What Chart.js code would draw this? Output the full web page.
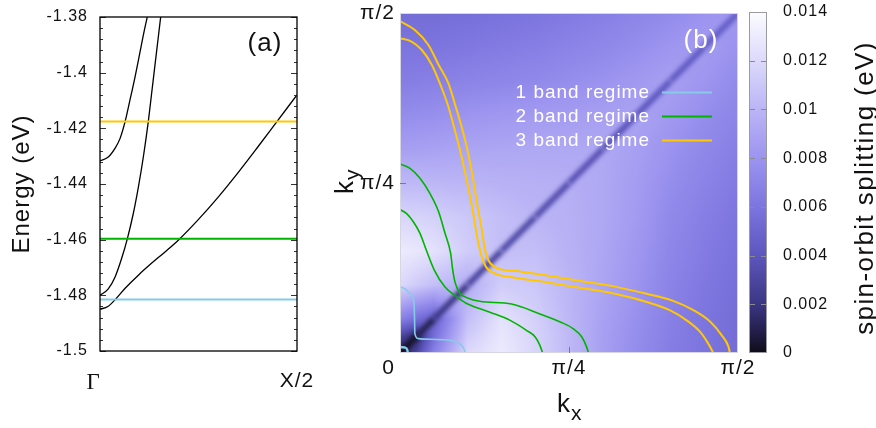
<!DOCTYPE html>
<html>
<head>
<meta charset="utf-8">
<script src="https://cdn.jsdelivr.net/npm/chart.js@4.4.1/dist/chart.umd.min.js"></script>
<style>
  html, body { margin: 0; padding: 0; background: #fff; }
  #wrap { position: relative; width: 876px; height: 428px; overflow: hidden; }
  canvas { position: absolute; top: 0; }
  #bandCanvas { left: 0; }
  #mapCanvas { left: 320px; }
  #barCanvas { left: 745px; }
</style>
</head>
<body>
<div id="wrap">
  <canvas id="bandCanvas" width="330" height="428"></canvas>
  <canvas id="mapCanvas" width="450" height="428"></canvas>
  <canvas id="barCanvas" width="131" height="428"></canvas>
</div>
<script>
// ---- (a) bands from Gamma to X/2 (k as fraction of the path) ----
const bandK1 = [0, 0.04, 0.08, 0.13, 0.2, 0.26, 0.33, 0.4, 0.5, 0.6, 0.7, 0.8, 0.9, 1.0];
const bandE1 = [-1.485, -1.484, -1.4813, -1.4773, -1.4724, -1.4686, -1.4644, -1.46, -1.4527, -1.4447, -1.436, -1.4268, -1.4174, -1.408];
const bandK2 = [0, 0.042, 0.076, 0.11, 0.139, 0.169, 0.195, 0.22, 0.245, 0.262, 0.279, 0.296, 0.308];
const bandE2 = [-1.48, -1.4777, -1.4735, -1.4667, -1.4596, -1.4506, -1.441, -1.4303, -1.4177, -1.4075, -1.3973, -1.3872, -1.38];
const bandK3 = [0, 0.042, 0.076, 0.1015, 0.127, 0.152, 0.178, 0.203, 0.225, 0.24];
const bandE3 = [-1.4317, -1.4303, -1.4272, -1.4237, -1.4177, -1.4099, -1.4015, -1.3926, -1.3848, -1.38];

// Fermi levels of the three regimes
const regimeLabels = ['1 band regime', '2 band regime', '3 band regime'];
const regimeColors = ['#86cce8', '#00b400', '#ffc800'];
const fermiLevels = [-1.4815, -1.4597, -1.4175];

const energyTicks = [-1.5, -1.48, -1.46, -1.44, -1.42, -1.4, -1.38];
const pathTicks = [0, 1];
const pathLabels = ['\u0393', 'X/2'];

// ---- (b) spin-orbit splitting over the quarter zone (k in units of pi) ----
const kNodes = [0, 0.025, 0.05, 0.1, 0.15, 0.2, 0.25, 0.3, 0.35, 0.4, 0.45, 0.5];
// rows: ky node, columns: kx node (eV)
const splitting = [
  [0,      0.003,  0.0068, 0.012,  0.013,  0.0118, 0.0102, 0.0087, 0.0075, 0.0065, 0.006,  0.0055],
  [0.003,  0.0015, 0.0055, 0.0112, 0.0128, 0.0117, 0.0102, 0.0087, 0.0076, 0.0066, 0.006,  0.0055],
  [0.0068, 0.0055, 0.0045, 0.0105, 0.0125, 0.0115, 0.0101, 0.0088, 0.0077, 0.0067, 0.006,  0.0055],
  [0.012,  0.0112, 0.0105, 0.0095, 0.0113, 0.011,  0.01,   0.009,  0.008,  0.0069, 0.0062, 0.0056],
  [0.013,  0.0128, 0.0125, 0.0113, 0.0105, 0.0105, 0.0098, 0.0091, 0.0082, 0.0071, 0.0064, 0.0058],
  [0.0118, 0.0117, 0.0115, 0.011,  0.0105, 0.01,   0.0097, 0.0092, 0.0084, 0.0073, 0.0066, 0.006],
  [0.0102, 0.0102, 0.0101, 0.01,   0.0098, 0.0097, 0.0096, 0.0092, 0.0085, 0.0076, 0.0069, 0.0063],
  [0.0087, 0.0087, 0.0088, 0.009,  0.0091, 0.0092, 0.0092, 0.0092, 0.0087, 0.0079, 0.0072, 0.0066],
  [0.0075, 0.0076, 0.0077, 0.008,  0.0082, 0.0084, 0.0085, 0.0087, 0.0089, 0.0083, 0.0076, 0.007],
  [0.0065, 0.0066, 0.0067, 0.0069, 0.0071, 0.0073, 0.0076, 0.0079, 0.0083, 0.0087, 0.0081, 0.0074],
  [0.006,  0.006,  0.006,  0.0062, 0.0064, 0.0066, 0.0069, 0.0072, 0.0076, 0.0081, 0.0085, 0.0079],
  [0.0055, 0.0055, 0.0055, 0.0056, 0.0058, 0.006,  0.0063, 0.0066, 0.007,  0.0074, 0.0079, 0.0083]
];
// the narrow valley along kx = ky
const diagSplitting = [0, 0.0006, 0.0016, 0.0028, 0.0032, 0.0034, 0.0036, 0.0038, 0.004, 0.0042, 0.0044, 0.0046];

// Fermi contours [kx, ky]
const cyanOuter = [[0, 0.0973], [0.008, 0.094], [0.0148, 0.0875], [0.0207, 0.073], [0.0215, 0.05], [0.022, 0.0286],
  [0.027, 0.0212], [0.059, 0.0197], [0.084, 0.016], [0.093, 0.009], [0.097, 0]];
const cyanInner = [[0, 0.0088], [0.0074, 0.008], [0.011, 0.004], [0.0113, 0]];
const greenOuter = [[0, 0.278], [0.0148, 0.2716], [0.0296, 0.257], [0.044, 0.235], [0.057, 0.208], [0.0666, 0.176],
  [0.075, 0.146], [0.078, 0.122], [0.082, 0.102], [0.089, 0.0875], [0.1, 0.081], [0.118, 0.076], [0.165, 0.072],
  [0.207, 0.0575], [0.237, 0.0457], [0.256, 0.036], [0.269, 0.0236], [0.276, 0.009], [0.279, 0]];
const greenInner = [[0, 0.211], [0.0099, 0.205], [0.0197, 0.193], [0.0296, 0.176], [0.039, 0.151], [0.0507, 0.122],
  [0.0666, 0.097], [0.084, 0.0825], [0.0987, 0.0728], [0.133, 0.06], [0.163, 0.048], [0.187, 0.0334],
  [0.2, 0.0236], [0.207, 0.0113], [0.211, 0]];
const yellowOuter = [[0, 0.488], [0.022, 0.475], [0.042, 0.453], [0.057, 0.424], [0.0715, 0.397], [0.081, 0.367],
  [0.091, 0.333], [0.0996, 0.299], [0.1075, 0.259], [0.114, 0.22], [0.121, 0.181], [0.126, 0.151], [0.131, 0.136],
  [0.1455, 0.124], [0.168, 0.121], [0.217, 0.114], [0.266, 0.106], [0.316, 0.098], [0.365, 0.087], [0.404, 0.0766],
  [0.434, 0.063], [0.459, 0.046], [0.476, 0.026], [0.486, 0.009], [0.488, 0]];
const yellowInner = [[0, 0.463], [0.017, 0.458], [0.032, 0.446], [0.047, 0.424], [0.06, 0.394], [0.0715, 0.3625],
  [0.081, 0.328], [0.091, 0.289], [0.0996, 0.2495], [0.1075, 0.21], [0.114, 0.171], [0.121, 0.1415], [0.127, 0.127],
  [0.143, 0.116], [0.168, 0.111], [0.217, 0.104], [0.266, 0.096], [0.316, 0.0874], [0.365, 0.075], [0.399, 0.063],
  [0.424, 0.048], [0.444, 0.031], [0.456, 0.0138], [0.4635, 0]];

const kTicks = [0, 0.25, 0.5];
const kLabels = ['0', '\u03c0/4', '\u03c0/2'];

// colour scale
const splitTicks = [0, 0.002, 0.004, 0.006, 0.008, 0.01, 0.012, 0.014];
const cbStops = [0, 0.001, 0.002, 0.004, 0.006, 0.008, 0.010, 0.012, 0.014];
const cbColors = ['#0e0c18', '#262150', '#3b3682', '#5d56bd', '#7d75df', '#9c94ef', '#bbb5f6', '#dcd9fb', '#fcfcff'];

const SANS = "'Liberation Sans', Arial, Helvetica, sans-serif";
const SERIF = "'Liberation Serif', 'Times New Roman', serif";
const LS = '1px';
const INK = '#111';

// ---------- helpers ----------
function hexToRgb(h) {
  return [parseInt(h.slice(1, 3), 16), parseInt(h.slice(3, 5), 16), parseInt(h.slice(5, 7), 16)];
}
const cbRgb = cbColors.map(hexToRgb);

function splitColor(v) {
  const n = cbStops.length;
  if (v <= cbStops[0]) return cbRgb[0];
  if (v >= cbStops[n - 1]) return cbRgb[n - 1];
  let i = 0;
  while (v > cbStops[i + 1]) i++;
  const t = (v - cbStops[i]) / (cbStops[i + 1] - cbStops[i]);
  const a = cbRgb[i], b = cbRgb[i + 1];
  return [a[0] + (b[0] - a[0]) * t, a[1] + (b[1] - a[1]) * t, a[2] + (b[2] - a[2]) * t];
}
function rgbStr(c) {
  return 'rgb(' + c.map(Math.round).join(',') + ')';
}

function nodeIndex(k) {
  let i = 0;
  while (i < kNodes.length - 2 && k > kNodes[i + 1]) i++;
  return i;
}
// bilinear shading between grid nodes
function splitAt(kx, ky) {
  const i = nodeIndex(kx), j = nodeIndex(ky);
  const tx = Math.min(1, Math.max(0, (kx - kNodes[i]) / (kNodes[i + 1] - kNodes[i])));
  const ty = Math.min(1, Math.max(0, (ky - kNodes[j]) / (kNodes[j + 1] - kNodes[j])));
  return splitting[j][i] * (1 - tx) * (1 - ty) + splitting[j][i + 1] * tx * (1 - ty) +
         splitting[j + 1][i] * (1 - tx) * ty + splitting[j + 1][i + 1] * tx * ty;
}

// fixed axis sizes so the plot boxes sit where we want them
function fixAxis(size, horizontal) {
  return function (scale) {
    if (horizontal) scale.height = size; else scale.width = size;
    scale.paddingLeft = scale.paddingRight = scale.paddingTop = scale.paddingBottom = 0;
  };
}

const spacing = {
  id: 'spacing',
  beforeLayout(chart) { chart.ctx.letterSpacing = LS; },
  beforeDraw(chart) { chart.ctx.letterSpacing = LS; }
};

function curve(label, xs, ys, color, width) {
  return {
    label, data: xs.map((x, i) => ({ x, y: ys[i] })), showLine: true,
    borderColor: color, borderWidth: width, pointRadius: 0, cubicInterpolationMode: 'monotone'
  };
}
function contour(label, pts, color, width) {
  return {
    label, data: pts.map(p => ({ x: p[0], y: p[1] })), showLine: true,
    borderColor: color, borderWidth: width, pointRadius: 0, cubicInterpolationMode: 'monotone', order: 0
  };
}

// ---------- (a) ----------
const bandFrame = {
  id: 'bandFrame',
  afterDatasetsDraw(chart) {
    const { ctx, chartArea: a, scales: { y } } = chart;
    ctx.save();
    ctx.strokeStyle = '#333';
    ctx.lineWidth = 1;
    for (let i = 0; i < energyTicks.length; i++) {
      const py = Math.round(y.getPixelForValue(energyTicks[i])) + 0.5;
      ctx.beginPath();
      ctx.moveTo(a.left, py); ctx.lineTo(a.left + 6, py);
      ctx.moveTo(a.right, py); ctx.lineTo(a.right - 6, py);
      ctx.stroke();
      if (i < energyTicks.length - 1) {
        for (let m = 1; m < 5; m++) {
          const v = energyTicks[i] + (energyTicks[i + 1] - energyTicks[i]) * m / 5;
          const pm = Math.round(y.getPixelForValue(v)) + 0.5;
          ctx.beginPath();
          ctx.moveTo(a.left, pm); ctx.lineTo(a.left + 3, pm);
          ctx.moveTo(a.right, pm); ctx.lineTo(a.right - 3, pm);
          ctx.stroke();
        }
      }
    }
    ctx.strokeStyle = '#000';
    ctx.lineWidth = 1.3;
    ctx.strokeRect(a.left, a.top, a.right - a.left, a.bottom - a.top);
    ctx.fillStyle = INK;
    ctx.font = '26px ' + SANS;
    ctx.textAlign = 'center';
    ctx.textBaseline = 'middle';
    ctx.fillText('(a)', 265, 44);
    ctx.restore();
  }
};

new Chart(document.getElementById('bandCanvas'), {
  type: 'scatter',
  data: {
    datasets: [
      ...fermiLevels.map((e, i) => curve(regimeLabels[i], pathTicks, [e, e], regimeColors[i], 2)),
      curve('band 1', bandK1, bandE1, '#000', 1.3),
      curve('band 2', bandK2, bandE2, '#000', 1.3),
      curve('band 3', bandK3, bandE3, '#000', 1.3)
    ]
  },
  options: {
    responsive: false,
    animation: false,
    layout: { padding: { left: 0, top: 17, right: 33, bottom: 0 } },
    plugins: { legend: { display: false }, tooltip: { enabled: false } },
    scales: {
      x: {
        type: 'linear', min: 0, max: 1,
        afterBuildTicks: s => { s.ticks = pathTicks.map(v => ({ value: v })); },
        afterFit: fixAxis(77, true),
        grid: { display: false, drawTicks: false },
        border: { display: false },
        ticks: {
          autoSkip: false, maxRotation: 0, padding: 18, color: INK,
          font: c => (c.index === 0 ? { family: SERIF, size: 23 } : { family: SANS, size: 21 }),
          // the Gamma label sits a little left of the corner
          callback: v => (v === 0 ? pathLabels[0] + '\u2002' : pathLabels[pathTicks.indexOf(v)])
        }
      },
      y: {
        type: 'linear', min: -1.5, max: -1.38,
        afterBuildTicks: s => { s.ticks = energyTicks.map(v => ({ value: v })); },
        afterFit: fixAxis(100, false),
        grid: { display: false, drawTicks: false },
        border: { display: false },
        ticks: { padding: 12, color: INK, font: { family: SANS, size: 16 }, callback: v => String(v) },
        title: { display: true, text: 'Energy (eV)', color: INK, font: { family: SANS, size: 24 }, padding: { top: 8, bottom: 0 } }
      }
    }
  },
  plugins: [spacing, bandFrame]
});

// ---------- (b) ----------
const heatmap = {
  id: 'heatmap',
  beforeDatasetsDraw(chart) {
    const { ctx, chartArea: a, scales: { x, y } } = chart;
    const w = Math.round(a.right - a.left), h = Math.round(a.bottom - a.top);
    const off = document.createElement('canvas');
    off.width = w; off.height = h;
    const octx = off.getContext('2d');
    const img = octx.createImageData(w, h);
    for (let py = 0; py < h; py++) {
      const ky = y.getValueForPixel(a.top + py + 0.5);
      for (let px = 0; px < w; px++) {
        const kx = x.getValueForPixel(a.left + px + 0.5);
        const c = splitColor(splitAt(kx, ky));
        const o = (py * w + px) * 4;
        img.data[o] = c[0]; img.data[o + 1] = c[1]; img.data[o + 2] = c[2]; img.data[o + 3] = 255;
      }
    }
    octx.putImageData(img, 0, 0);
    ctx.drawImage(off, a.left, a.top, w, h);
  },
  beforeDatasetDraw(chart, args) {
    if (chart.data.datasets[args.index].valley) {
      chart.ctx.save();
      chart.ctx.filter = 'blur(2px)';
    }
  },
  afterDatasetDraw(chart, args) {
    if (chart.data.datasets[args.index].valley) chart.ctx.restore();
  },
  afterDatasetsDraw(chart) {
    const { ctx, chartArea: a, scales: { x, y } } = chart;
    ctx.save();
    ctx.strokeStyle = 'rgba(215,215,228,1)';
    ctx.lineWidth = 1;
    ctx.strokeRect(a.left + 0.5, a.top + 0.5, a.right - a.left - 1, a.bottom - a.top - 1);
    ctx.strokeStyle = '#7a7a8a';
    const tx = Math.round(x.getPixelForValue(kTicks[1])) + 0.5;
    const ty = Math.round(y.getPixelForValue(kTicks[1])) + 0.5;
    ctx.beginPath();
    ctx.moveTo(tx, a.bottom); ctx.lineTo(tx, a.bottom - 6);
    ctx.moveTo(a.left, ty); ctx.lineTo(a.left + 6, ty);
    ctx.stroke();

    // panel tag and legend
    ctx.fillStyle = '#fff';
    ctx.textBaseline = 'middle';
    ctx.font = '26px ' + SANS;
    ctx.textAlign = 'center';
    ctx.fillText('(b)', 381, 41);
    ctx.font = '19px ' + SANS;
    ctx.textAlign = 'right';
    regimeLabels.forEach((lab, i) => {
      const ly = 92.5 + 24 * i;
      ctx.fillStyle = '#fff';
      ctx.fillText(lab, 330, ly);
      ctx.strokeStyle = regimeColors[i];
      ctx.lineWidth = 2;
      ctx.beginPath();
      ctx.moveTo(342, ly); ctx.lineTo(392, ly);
      ctx.stroke();
    });
    ctx.restore();
  },
  afterDraw(chart) {
    const ctx = chart.ctx;
    ctx.save();
    ctx.fillStyle = INK;
    ctx.textAlign = 'left';
    ctx.textBaseline = 'alphabetic';
    // k_x
    ctx.font = '26px ' + SANS;
    ctx.fillText('k', 237, 412);
    let kw = ctx.measureText('k').width;
    ctx.font = '21px ' + SANS;
    ctx.fillText('x', 237 + kw, 420);
    // k_y
    ctx.translate(33, 194);
    ctx.rotate(-Math.PI / 2);
    ctx.font = '26px ' + SANS;
    ctx.fillText('k', 0, 0);
    kw = ctx.measureText('k').width;
    ctx.font = '21px ' + SANS;
    ctx.fillText('y', kw, 6);
    ctx.restore();
  }
};

new Chart(document.getElementById('mapCanvas'), {
  type: 'scatter',
  data: {
    datasets: [
      contour(regimeLabels[0], cyanOuter, regimeColors[0], 1.6),
      contour(regimeLabels[0], cyanInner, regimeColors[0], 2.4),
      contour(regimeLabels[1], greenOuter, regimeColors[1], 1.6),
      contour(regimeLabels[1], greenInner, regimeColors[1], 1.6),
      contour(regimeLabels[2], yellowOuter, regimeColors[2], 2),
      contour(regimeLabels[2], yellowInner, regimeColors[2], 2),
      {
        label: 'kx = ky', valley: true, order: 5,
        data: kNodes.map(k => ({ x: k, y: k })), showLine: true, pointRadius: 0, borderWidth: 6.5,
        borderColor: rgbStr(splitColor(diagSplitting[6])),
        segment: {
          borderColor: c => rgbStr(splitColor((diagSplitting[c.p0DataIndex] + diagSplitting[c.p1DataIndex]) / 2))
        }
      }
    ]
  },
  options: {
    responsive: false,
    animation: false,
    layout: { padding: { left: 0, top: 13, right: 32, bottom: 0 } },
    plugins: { legend: { display: false }, tooltip: { enabled: false } },
    scales: {
      x: {
        type: 'linear', min: 0, max: 0.5,
        afterBuildTicks: s => { s.ticks = kTicks.map(v => ({ value: v })); },
        afterFit: fixAxis(75, true),
        grid: { display: false, drawTicks: false },
        border: { display: false },
        ticks: {
          autoSkip: false, maxRotation: 0, padding: 3, color: INK, font: { family: SANS, size: 21 },
          callback: v => (v === 0 ? kLabels[0] + '\u2002\u2002' : kLabels[kTicks.indexOf(v)])
        }
      },
      y: {
        type: 'linear', min: 0, max: 0.5,
        afterBuildTicks: s => { s.ticks = kTicks.slice(1).map(v => ({ value: v })); },
        afterFit: fixAxis(80, false),
        grid: { display: false, drawTicks: false },
        border: { display: false },
        ticks: {
          padding: 5, color: INK, font: { family: SANS, size: 21 },
          callback: v => kLabels[kTicks.indexOf(v)]
        }
      }
    }
  },
  plugins: [spacing, heatmap]
});

// ---------- colour bar ----------
const barDecor = {
  id: 'barDecor',
  afterDatasetsDraw(chart) {
    const { ctx, chartArea: a, scales: { y } } = chart;
    ctx.save();
    ctx.strokeStyle = '#8a8a95';
    ctx.lineWidth = 1;
    splitTicks.slice(1, -1).forEach(v => {
      const py = Math.round(y.getPixelForValue(v)) + 0.5;
      ctx.beginPath();
      ctx.moveTo(a.left, py); ctx.lineTo(a.left + 6, py);
      ctx.moveTo(a.right, py); ctx.lineTo(a.right - 6, py);
      ctx.stroke();
    });
    ctx.strokeStyle = '#9a9aa2';
    ctx.strokeRect(a.left + 0.5, a.top + 0.5, a.right - a.left - 1, a.bottom - a.top - 1);
    ctx.restore();
  },
  afterDraw(chart) {
    const ctx = chart.ctx;
    ctx.save();
    ctx.letterSpacing = '1.4px';
    ctx.translate(121, 188);
    ctx.rotate(-Math.PI / 2);
    ctx.fillStyle = INK;
    ctx.font = '26px ' + SANS;
    ctx.textAlign = 'center';
    ctx.textBaseline = 'middle';
    ctx.fillText('spin-orbit splitting (eV)', 0, 0);
    ctx.restore();
  }
};

new Chart(document.getElementById('barCanvas'), {
  type: 'bar',
  data: {
    labels: ['splitting'],
    datasets: [{
      data: [splitTicks[splitTicks.length - 1]],
      barPercentage: 1, categoryPercentage: 1, borderWidth: 0,
      backgroundColor: c => {
        const { chart } = c;
        if (!chart.chartArea) return cbColors[4];
        const y = chart.scales.y;
        const top = cbStops[cbStops.length - 1];
        const g = chart.ctx.createLinearGradient(0, y.getPixelForValue(0), 0, y.getPixelForValue(top));
        cbStops.forEach((s, i) => g.addColorStop(s / top, cbColors[i]));
        return g;
      }
    }]
  },
  options: {
    responsive: false,
    animation: false,
    layout: { padding: { left: 4, top: 12, right: 0, bottom: 75 } },
    plugins: { legend: { display: false }, tooltip: { enabled: false } },
    scales: {
      x: { display: false },
      y: {
        position: 'right', min: 0, max: 0.014,
        afterBuildTicks: s => { s.ticks = splitTicks.map(v => ({ value: v })); },
        afterFit: fixAxis(109, false),
        grid: { display: false, drawTicks: false },
        border: { display: false },
        ticks: { padding: 16, color: INK, font: { family: SANS, size: 16 }, callback: v => String(v) }
      }
    }
  },
  plugins: [spacing, barDecor]
});
</script>
</body>
</html>
